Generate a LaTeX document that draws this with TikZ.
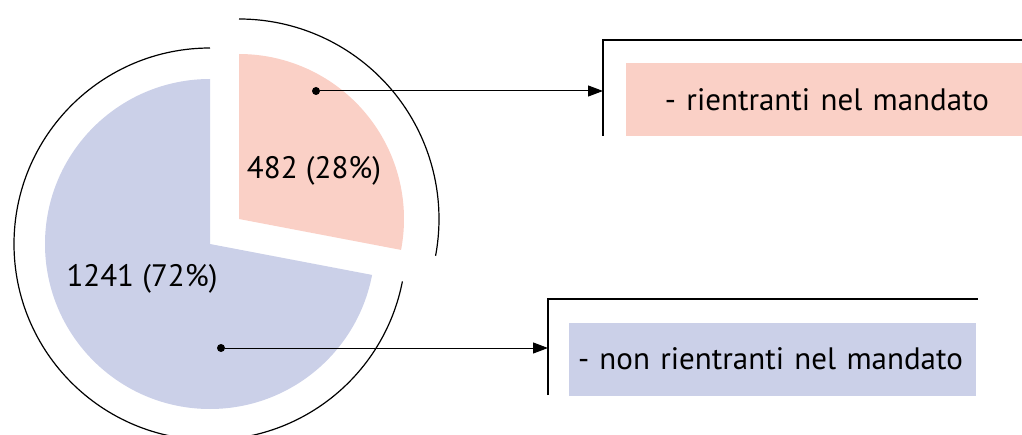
\documentclass[tikz,border=0pt]{standalone}
\usepackage{fontspec}
\setmainfont{PT Sans}
\usetikzlibrary{arrows.meta,positioning}
\definecolor{pinkfill}{RGB}{250,208,198}
\definecolor{bluefill}{RGB}{203,208,232}

\begin{document}
\begin{tikzpicture}[x=0.5pt, y=0.5pt,
  sharetext/.style={font=\fontsize{15.5}{18}\selectfont, inner sep=0pt},
  legendbox/.style={font=\fontsize{15.5}{18}\selectfont, inner ysep=0pt, minimum height=36.5pt},
  pointdot/.style={circle, fill=black, inner sep=0pt, minimum size=4pt},
  ringarc/.style={line width=0.6pt},
  leader/.style={-{Triangle[length=7.5pt, width=5.5pt]}, line width=0.5pt}]
  \useasboundingbox (0,0) rectangle (1022,434);

  % pie slices and their rings
  \fill[bluefill] (210,190) -- ++(90:82.5pt) arc[start angle=90, end angle=349.2, radius=82.5pt] -- cycle;
  \fill[pinkfill] (239,215) -- ++(90:82.5pt) arc[start angle=90, end angle=-10.8, radius=82.5pt] -- cycle;
  \draw[ringarc] (210,190) ++(90:98pt) arc[start angle=90, end angle=349, radius=98pt];
  \draw[ringarc] (239,215) ++(90:100pt) arc[start angle=90, end angle=-10.6, radius=100pt];

  \node (share1) [sharetext] at (314,263) {482 (28\%)};
  \node (share2) [sharetext] at (142,155) {1241 (72\%)};
  \node (dot1) [pointdot] at (316,343) {};
  \node (dot2) [pointdot] at (221,86) {};

  % legend
  \node (box1) [legendbox, fill=pinkfill, inner xsep=16.5pt, text width=165pt, align=right] at (824,334.5) {- rientranti nel mandato};
  \node (box2) [legendbox, fill=bluefill, inner xsep=4.5pt, text width=194.5pt, align=left] at (772.5,75) {- non rientranti nel mandato};
  \coordinate (in1) at (603,343);
  \coordinate (in2) at (548,86);
  \draw[ringarc] (603,298) -- (603,394) -- (1022,394);
  \draw[ringarc] (548,39) -- (548,135) -- (978,135);

  \draw[leader] (dot1) -- (in1);
  \draw[leader] (dot2) -- (in2);
\end{tikzpicture}
\end{document}
